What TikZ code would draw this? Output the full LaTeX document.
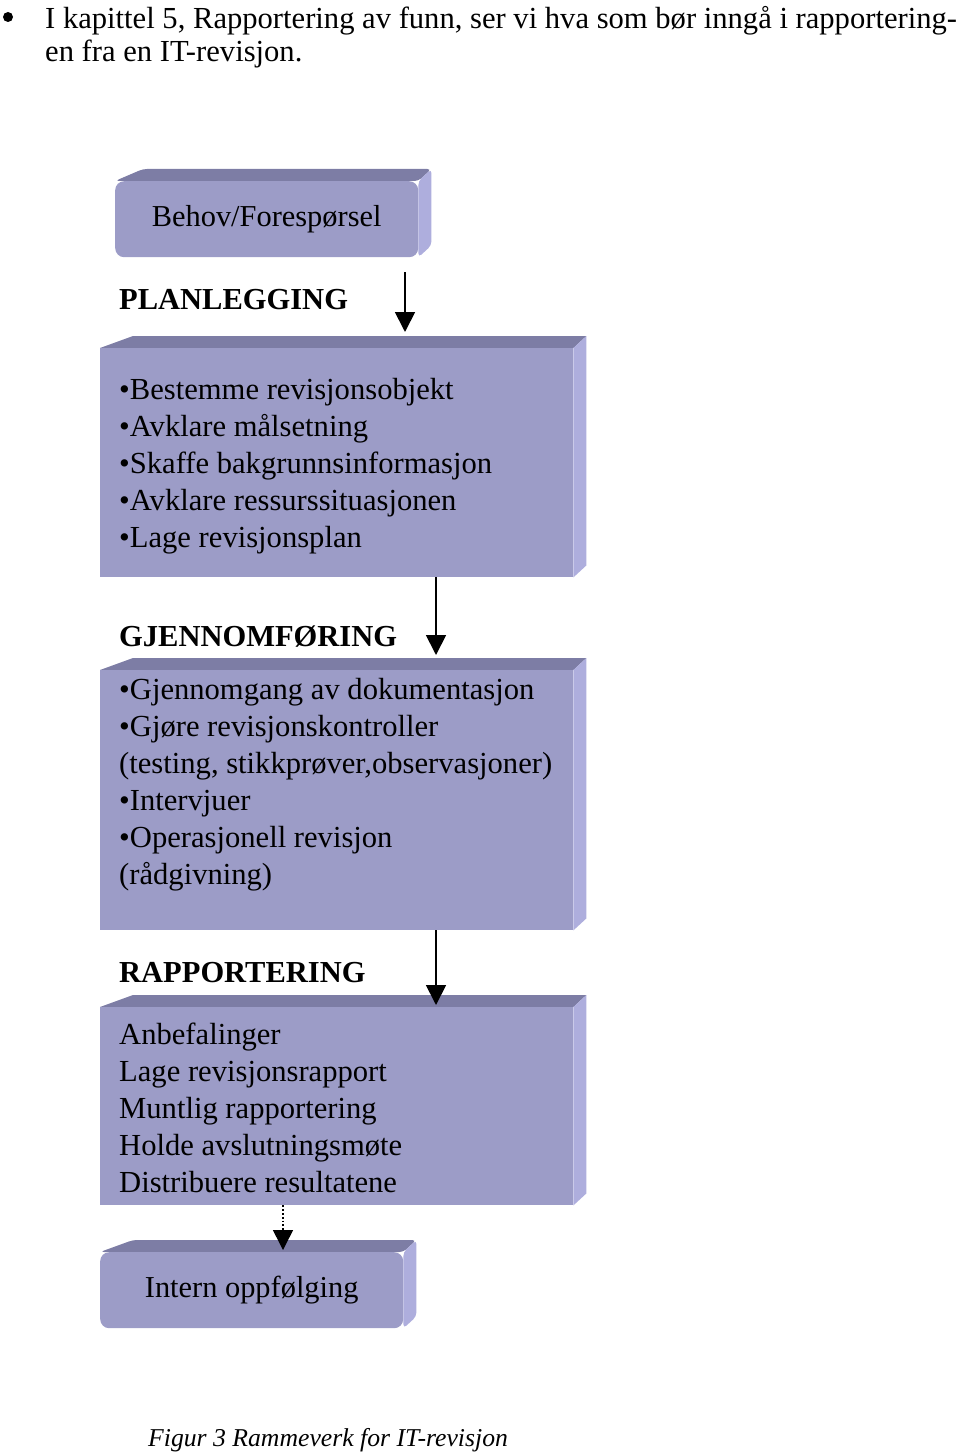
\documentclass[tikz,border=0pt]{standalone}
\usepackage{fontspec}
\setmainfont{Liberation Serif}
\usetikzlibrary{arrows.meta}
\usetikzlibrary{positioning,backgrounds}
\definecolor{faceblue}{HTML}{9C9CC7}
\definecolor{topblue}{HTML}{7D7DA5}
\definecolor{sideblue}{HTML}{AEAEDD}
\tikzset{
    face/.style={
        rectangle,
        fill=faceblue,
        inner sep=0pt,
        anchor=north west,
        font=\fontsize{30.4}{33}\selectfont
    },
    roundface/.style={face, rounded corners=9pt},
    listtext/.style={
        anchor=west,
        align=left,
        inner sep=0pt,
        font=\fontsize{30.6}{37}\selectfont
    },
    heading/.style={
        anchor=west,
        inner sep=0pt,
        font=\fontsize{30.5}{33}\selectfont\bfseries
    },
    flow/.style={
        draw,
        line width=1.8pt,
        -{Triangle[length=20pt, width=20pt]}
    }
}
% top and right bevel behind a face node
\newcommand{\bevels}[3][0pt]{%
  \begin{pgfonlayer}{background}
    \fill[topblue, rounded corners=#1] (#2.north west) -- ++(#3,12pt)
      -- ([shift={(13pt,12pt)}]#2.north east) -- (#2.north east) -- cycle;
    \fill[sideblue, rounded corners=#1] (#2.north east) -- ++(13pt,12pt)
      -- ([shift={(13pt,12pt)}]#2.south east) -- (#2.south east) -- cycle;
  \end{pgfonlayer}
}

\begin{document}
\begin{tikzpicture}[x=1pt, y=-1pt]
  \useasboundingbox (0,0) rectangle (960,1455);

  % Intro line above the figure
  \node[circle, fill=black, inner sep=0pt, minimum size=10pt] (dot) at (8,17) {};
  \node[anchor=north west, align=left, inner sep=0pt,
        font=\fontsize{30.6}{33}\selectfont] (intro) at (45,6)
    {I kapittel 5, Rapportering av funn, ser vi hva som bør inngå i rapportering-\\
     en fra en IT-revisjon.};

  % Boxes
  \node[roundface, minimum width=303pt, minimum height=76pt] (b1) at (115,181) {Behov/Forespørsel};
  \bevels[4pt]{b1}{28pt}

  \node[face, minimum width=473pt, minimum height=229pt] (b2) at (100,348) {};
  \bevels{b2}{33pt}

  \node[face, minimum width=473pt, minimum height=260pt] (b3) at (100,670) {};
  \bevels{b3}{33pt}

  \node[face, minimum width=473pt, minimum height=198pt] (b4) at (100,1007) {};
  \bevels{b4}{33pt}

  \node[roundface, minimum width=303pt, minimum height=76pt] (b5) at (100,1252) {Intern oppfølging};
  \bevels[4pt]{b5}{33pt}

  % Phase headings
  \node[heading] (plan) at (119,300) {PLANLEGGING};
  \node[heading] (gjen) at (119,637) {GJENNOMFØRING};
  \node[heading] (rapp) at (119,973) {RAPPORTERING};

  % Box contents
  \node[listtext] (t2) at (119,466)
    {•Bestemme revisjonsobjekt\\•Avklare målsetning\\•Skaffe bakgrunnsinformasjon\\
     •Avklare ressurssituasjonen\\•Lage revisjonsplan};
  \node[listtext] (t3) at (119,785)
    {•Gjennomgang av dokumentasjon\\•Gjøre revisjonskontroller\\
     (testing, stikkprøver,observasjoner)\\•Intervjuer\\•Operasjonell revisjon\\(rådgivning)};
  \node[listtext] (t4) at (119,1108)
    {Anbefalinger\\Lage revisjonsrapport\\Muntlig rapportering\\
     Holde avslutningsmøte\\Distribuere resultatene};

  % Arrows between the phases
  \coordinate (c1) at (405,0);
  \coordinate (c2) at (436,0);
  \coordinate (c3) at (283,0);
  \draw[flow] ([yshift=-15pt]b1.south -| c1) -- ([yshift=16pt]b2.north -| c1);
  \draw[flow] (b2.south -| c2) -- ([yshift=15pt]b3.north -| c2);
  \draw[flow] (b3.south -| c2) -- ([yshift=2pt]b4.north -| c2);
  \draw[flow, dotted, line width=1.5pt] (b4.south -| c3) -- ([yshift=2pt]b5.north -| c3);

  % Caption
  \node[anchor=west, inner sep=0pt, font=\fontsize{25.7}{30}\selectfont\itshape] (cap) at (148,1440)
    {Figur 3 Rammeverk for IT-revisjon};
\end{tikzpicture}
\end{document}
